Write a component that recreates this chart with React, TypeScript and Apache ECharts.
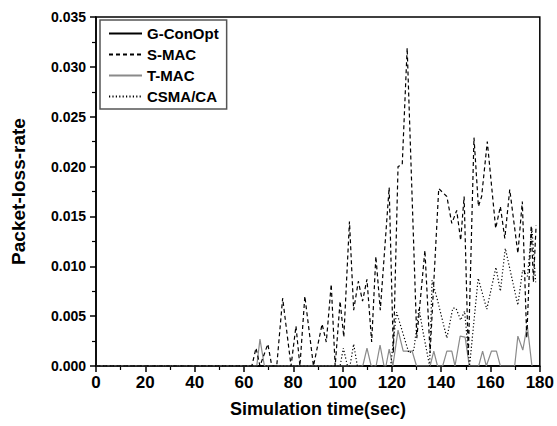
import React, { useEffect, useRef } from "react";
import * as echarts from "echarts";

// ---- data ----
const xTicks = [0, 20, 40, 60, 80, 100, 120, 140, 160, 180];
const yTicks = [0, 0.005, 0.01, 0.015, 0.02, 0.025, 0.03, 0.035];

const gConOptTime = [0, 179];
const gConOptRate = [0, 0];

const sMacTime = [0, 63.2, 64.9, 66.5, 69.7, 71.3, 73.3, 75.7, 79.1, 81.1, 82.7, 84.7, 88.2, 91.7, 93.4, 95.4, 97, 99, 100.5, 102.8, 104.5, 106.4, 108.1, 109.9, 111.8, 113.5, 115.3, 118.9, 120.6, 122.5, 124.2, 126.2, 130.1, 133.4, 135.5, 139, 142.3, 144.3, 146.3, 147.9, 149.3, 151, 153.3, 155.1, 156.4, 158.7, 162.1, 164, 165.8, 167.8, 171.1, 172.9, 174.7, 176.5, 177.4, 178.5];
const sMacRate = [0, 0, 0.0018, 0, 0.0022, 0, 0, 0.0068, 0, 0.004, 0, 0.007, 0, 0.0042, 0.0024, 0.0082, 0, 0.0065, 0.0029, 0.0145, 0.0056, 0.0085, 0.0065, 0.0087, 0.0024, 0.011, 0.0056, 0.0179, 0.0013, 0.02, 0.0202, 0.0319, 0.0028, 0.0116, 0.0013, 0.0178, 0.017, 0.0143, 0.0156, 0.0126, 0.017, 0.001, 0.0229, 0.016, 0.017, 0.0225, 0.0138, 0.016, 0.0128, 0.0177, 0.0113, 0.0165, 0.0028, 0.0141, 0.0084, 0.0141];

const tMacTime = [0, 65.2, 66.5, 68.3, 108.2, 109.9, 111.6, 113.6, 115.2, 116.8, 117.6, 118.9, 120.4, 122.5, 124.6, 128.2, 130, 135.5, 137, 138.5, 140.6, 142.3, 144.3, 145.6, 147.7, 149.7, 151.4, 155.2, 156.8, 158.3, 160.4, 162.4, 164, 169.8, 171.1, 173.1, 174.9, 176.8];
const tMacRate = [0, 0, 0.0027, 0, 0, 0.0018, 0, 0, 0.0021, 0, 0, 0.0017, 0, 0.0036, 0.0015, 0.0015, 0, 0, 0.0015, 0, 0, 0.0015, 0.0015, 0, 0.003, 0.0029, 0, 0, 0.0015, 0, 0.0015, 0.0015, 0, 0, 0.003, 0.0016, 0.0041, 0];

const csmaTime = [0, 99, 100.3, 102, 103, 104.5, 106, 119.5, 121.9, 126.9, 128.9, 131, 132.5, 135.3, 136.3, 138.5, 142.3, 144.7, 146, 147.9, 149.5, 151.5, 155, 158.5, 162.2, 164, 166, 171.1, 173, 175, 176.8, 178.3];
const csmaRate = [0, 0, 0.0018, 0, 0, 0.0022, 0, 0, 0.0054, 0.0013, 0.0016, 0.0058, 0.0036, 0, 0.0086, 0.0066, 0.0028, 0.0058, 0.0058, 0.0046, 0.0055, 0, 0.0088, 0.0057, 0.0099, 0.0075, 0.0118, 0.0061, 0.0096, 0.009, 0.0138, 0.0084];

const zip = (t: number[], v: number[]) => t.map((x, i) => [x, v[i]]);

const FONT = "'Liberation Sans', Arial, sans-serif";

export default function App() {
  const ref = useRef<HTMLDivElement>(null);
  useEffect(() => {
    if (!ref.current) return;
    const chart = echarts.init(ref.current, undefined, { renderer: "svg" });
    chart.setOption({
      animation: false,
      backgroundColor: "#ffffff",
      grid: {
        left: 96,
        top: 17,
        right: 13,
        bottom: 60,
        show: true,
        borderColor: "#000",
        borderWidth: 1.5,
        backgroundColor: "transparent",
      },
      legend: {
        orient: "vertical",
        left: 100,
        top: 20,
        itemWidth: 33,
        itemHeight: 14,
        itemGap: 6,
        padding: [6, 8, 5, 8],
        backgroundColor: "#fff",
        borderColor: "#555",
        borderWidth: 1.5,
        borderRadius: 0,
        itemStyle: { opacity: 0 },
        textStyle: { fontFamily: FONT, fontWeight: "bold", fontSize: 15, color: "#000" },
        data: ["G-ConOpt", "S-MAC", "T-MAC", "CSMA/CA"],
      },
      xAxis: {
        type: "value",
        min: xTicks[0],
        max: xTicks[xTicks.length - 1],
        interval: 20,
        name: "Simulation time(sec)",
        nameLocation: "middle",
        nameGap: 34,
        nameTextStyle: { fontFamily: FONT, fontWeight: "bold", fontSize: 18, color: "#000" },
        axisLine: { show: true, lineStyle: { color: "#000", width: 1.5 } },
        axisTick: { show: true, inside: false, length: 6, lineStyle: { color: "#000", width: 1.5 } },
        minorTick: { show: true, splitNumber: 2, length: 4, lineStyle: { color: "#000", width: 1.2 } },
        splitLine: { show: false },
        axisLabel: { fontFamily: FONT, fontWeight: "bold", fontSize: 17, color: "#000", margin: 8 },
      },
      yAxis: {
        type: "value",
        min: yTicks[0],
        max: yTicks[yTicks.length - 1],
        interval: 0.005,
        name: "Packet-loss-rate",
        nameLocation: "middle",
        nameGap: 68,
        nameTextStyle: { fontFamily: FONT, fontWeight: "bold", fontSize: 19, color: "#000" },
        axisLine: { show: true, lineStyle: { color: "#000", width: 1.5 } },
        axisTick: { show: true, inside: false, length: 6, lineStyle: { color: "#000", width: 1.5 } },
        minorTick: { show: true, splitNumber: 2, length: 4, lineStyle: { color: "#000", width: 1.2 } },
        splitLine: { show: false },
        axisLabel: {
          fontFamily: FONT,
          fontWeight: "bold",
          fontSize: 14,
          color: "#000",
          margin: 10,
          formatter: (v: number) => v.toFixed(3),
        },
      },
      series: [
        {
          name: "G-ConOpt",
          type: "line",
          symbol: "none",
          data: zip(gConOptTime, gConOptRate),
          lineStyle: { color: "#000", width: 1.5, type: "solid" },
          itemStyle: { color: "#000" },
          z: 2,
        },
        {
          name: "S-MAC",
          type: "line",
          symbol: "none",
          data: zip(sMacTime, sMacRate),
          lineStyle: { color: "#000", width: 1.2, type: [4, 3] },
          itemStyle: { color: "#000" },
          z: 4,
        },
        {
          name: "T-MAC",
          type: "line",
          symbol: "none",
          data: zip(tMacTime, tMacRate),
          lineStyle: { color: "#8a8a8a", width: 1.2, type: "solid" },
          itemStyle: { color: "#8a8a8a" },
          z: 3,
        },
        {
          name: "CSMA/CA",
          type: "line",
          symbol: "none",
          data: zip(csmaTime, csmaRate),
          lineStyle: { color: "#000", width: 1.2, type: [1.2, 2.2] },
          itemStyle: { color: "#000" },
          z: 5,
        },
      ],
    });
    return () => chart.dispose();
  }, []);
  return (
    <div
      ref={ref}
      style={{ position: "fixed", left: 0, top: 0, width: 557, height: 426, background: "#fff" }}
    />
  );
}
